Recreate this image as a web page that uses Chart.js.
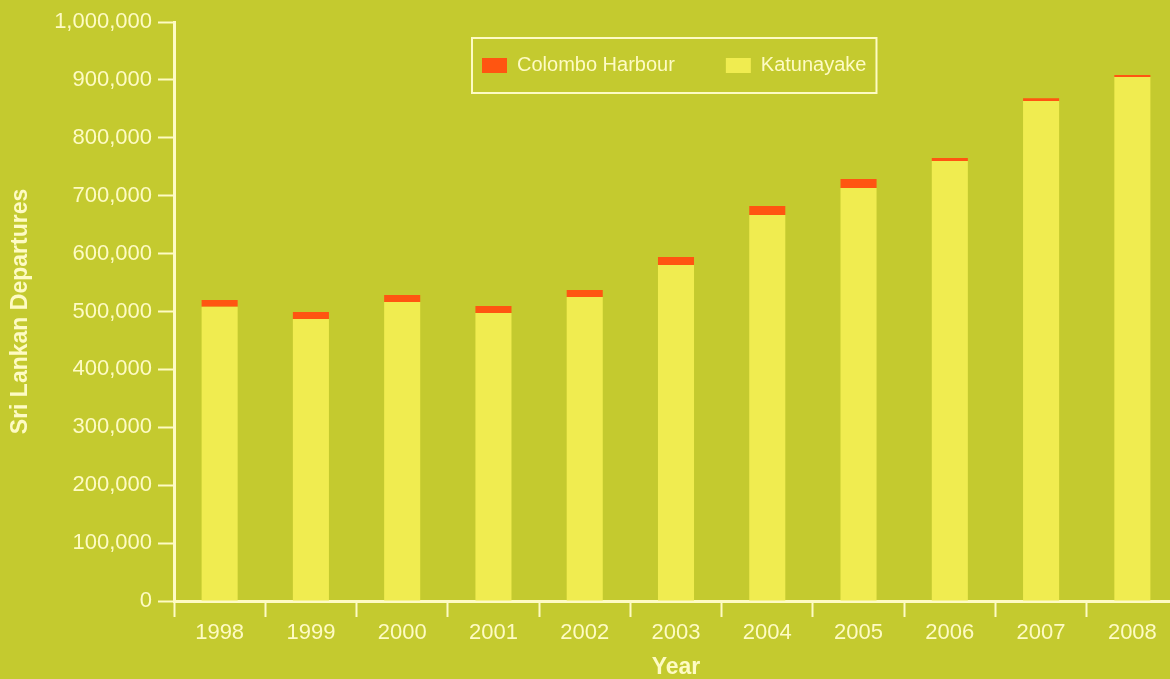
<!DOCTYPE html>
<html>
<head>
<meta charset="utf-8">
<script src="https://cdn.jsdelivr.net/npm/chart.js@4.4.1/dist/chart.umd.min.js"></script>
<style>
  html, body { margin: 0; padding: 0; background: #c4ca2f; overflow: hidden; }
  #wrap { width: 1178px; height: 679px; }
</style>
</head>
<body>
<div id="wrap"><canvas id="departuresChart" width="1178" height="679"></canvas></div>
<script>
  const years = ['1998', '1999', '2000', '2001', '2002', '2003', '2004', '2005', '2006', '2007', '2008'];
  const katunayake = [508000, 487000, 516500, 497500, 525000, 580500, 666500, 713500, 760000, 863500, 905000];
  const colomboHarbour = [12000, 12000, 12000, 12000, 12000, 13500, 15500, 15500, 5000, 5000, 3500];
  const yTicks = [0, 100000, 200000, 300000, 400000, 500000, 600000, 700000, 800000, 900000, 1000000];

  const cream = '#fefbc4';
  const yellow = '#f0ec50';
  const orange = '#ff5511';
  const fontFamily = '"Liberation Sans", Arial, sans-serif';

  // legend drawn inside the plot, centred near the top
  const boxLegend = {
    id: 'boxLegend',
    afterDraw(chart) {
      const ctx = chart.ctx;
      const area = chart.chartArea;
      const items = [
        { label: 'Colombo Harbour', color: orange },
        { label: 'Katunayake', color: yellow }
      ];
      ctx.save();
      ctx.font = '20px ' + fontFamily;
      const sw = 25, sh = 15, pad = 10, gap = 10, between = 51;
      let total = pad * 2;
      items.forEach((it, i) => {
        it.w = ctx.measureText(it.label).width;
        total += sw + gap + it.w + (i > 0 ? between : 0);
      });
      const h = 55;
      const left = Math.round((area.left + area.right) / 2 - total / 2) - 2;
      const top = area.top + 16;
      ctx.strokeStyle = cream;
      ctx.lineWidth = 2;
      ctx.strokeRect(left, top, total, h);
      let x = left + pad;
      const cy = top + h / 2;
      ctx.textBaseline = 'middle';
      items.forEach((it, i) => {
        if (i > 0) x += between;
        ctx.fillStyle = it.color;
        ctx.fillRect(x, cy - sh / 2, sw, sh);
        x += sw + gap;
        ctx.fillStyle = cream;
        ctx.fillText(it.label, x, cy);
        x += it.w;
      });
      ctx.restore();
    }
  };

  new Chart(document.getElementById('departuresChart').getContext('2d'), {
    type: 'bar',
    data: {
      labels: years,
      datasets: [
        {
          label: 'Katunayake',
          data: katunayake,
          backgroundColor: yellow,
          borderWidth: 0,
          categoryPercentage: 1,
          barPercentage: 0.395
        },
        {
          label: 'Colombo Harbour',
          data: colomboHarbour,
          backgroundColor: orange,
          borderWidth: 0,
          categoryPercentage: 1,
          barPercentage: 0.395
        }
      ]
    },
    options: {
      responsive: false,
      animation: false,
      layout: { padding: { top: 22, right: 0, left: 0, bottom: 0 } },
      plugins: {
        legend: { display: false },
        tooltip: { enabled: false }
      },
      scales: {
        x: {
          stacked: true,
          grid: {
            offset: true,
            drawOnChartArea: false,
            drawTicks: true,
            tickLength: 16,
            tickWidth: 2,
            tickColor: cream
          },
          border: { color: cream, width: 3 },
          ticks: {
            color: cream,
            padding: 3,
            maxRotation: 0,
            font: { family: fontFamily, size: 22 }
          },
          title: {
            display: true,
            text: 'Year',
            color: cream,
            font: { family: fontFamily, size: 23, weight: 'bold', lineHeight: 1 },
            padding: { top: 0, bottom: 0 }
          },
          afterFit(scale) { scale.height = 78; }
        },
        y: {
          stacked: true,
          min: 0,
          max: 1000000,
          afterBuildTicks(scale) { scale.ticks = yTicks.map(v => ({ value: v })); },
          grid: {
            drawOnChartArea: false,
            drawTicks: true,
            tickLength: 16,
            tickWidth: 2,
            tickColor: cream
          },
          border: { color: cream, width: 3 },
          ticks: {
            color: cream,
            padding: 6,
            font: { family: fontFamily, size: 22 },
            callback: v => Number(v).toLocaleString('en-US')
          },
          title: {
            display: true,
            text: 'Sri Lankan Departures',
            color: cream,
            font: { family: fontFamily, size: 23, weight: 'bold' },
            padding: { top: 7, bottom: 0 }
          },
          afterFit(scale) { scale.width = 174; }
        }
      }
    },
    plugins: [boxLegend]
  });
</script>
</body>
</html>
